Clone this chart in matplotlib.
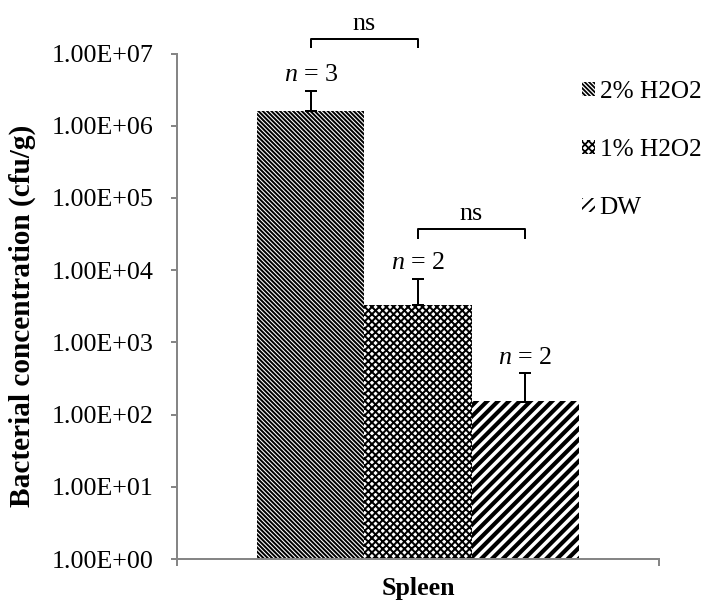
import matplotlib
matplotlib.use("Agg")
import numpy as np
import matplotlib.pyplot as plt
from matplotlib.patches import Patch
from matplotlib.ticker import FuncFormatter, FixedLocator

# values (log axis)
groups = ["2% H2O2", "1% H2O2", "DW"]
means = [1.6e6, 3.3e3, 1.51e2]
errs_up = [1.46e6, 4.25e3, 2.22e2]
n_labels = ["3", "2", "2"]
category = "Spleen"
y_ticks = [1e0, 1e1, 1e2, 1e3, 1e4, 1e5, 1e6, 1e7]

# significance brackets: (bar i, bar j, level, tip level)
brackets = [(0, 1, 10**7.20, 10**7.09), (1, 2, 10**4.57, 10**4.45)]
bracket_text = ["ns", "ns"]

hatches = ["\\" * 10, "x" * 6, "/" * 4]
hatch_lw = [1.1, 1.1, 2.3]

DPI = 130
plt.rcParams["font.family"] = ["Liberation Serif", "DejaVu Serif"]
plt.rcParams["font.size"] = 14.4
plt.rcParams["mathtext.fontset"] = "custom"
plt.rcParams["mathtext.rm"] = "Liberation Serif"
plt.rcParams["mathtext.it"] = "Liberation Serif:italic"

fig = plt.figure(figsize=(706 / DPI, 603 / DPI), dpi=DPI)
ax = fig.add_axes([177 / 706, 1 - 559 / 603, 482 / 706, (559 - 53.5) / 603])

gray = "#868686"
width = 0.222
xs = np.array([-width, 0.0, width])

for i in range(3):
    with plt.rc_context({"hatch.linewidth": hatch_lw[i]}):
        b = ax.bar(xs[i], means[i], width=width, bottom=1, color="white",
                   edgecolor="black", linewidth=0, hatch=hatches[i])
        for p in b:
            if hasattr(p, "set_hatch_linewidth"):
                p.set_hatch_linewidth(hatch_lw[i])

ax.errorbar(xs, means, yerr=[np.zeros(3), errs_up], fmt="none", ecolor="black",
            elinewidth=1.1, capsize=3.3, capthick=1.1)

for i in range(3):
    ax.annotate("$n$ = " + n_labels[i], (xs[i], means[i] + errs_up[i]),
                xytext=(0, 2.5), textcoords="offset points", ha="center", va="bottom")

for (a, b, lev, tip), t in zip(brackets, bracket_text):
    ax.plot([xs[a], xs[a], xs[b], xs[b]], [tip, lev, lev, tip], color="black",
            lw=1.1, clip_on=False)
    ax.annotate(t, ((xs[a] + xs[b]) / 2, lev), xytext=(0, 2),
                textcoords="offset points", ha="center", va="bottom",
                annotation_clip=False)

ax.set_yscale("log")
ax.set_ylim(1, 1e7)
ax.set_xlim(-0.5, 0.5)
ax.yaxis.set_major_locator(FixedLocator(y_ticks))
ax.yaxis.set_minor_locator(matplotlib.ticker.NullLocator())
ax.yaxis.set_major_formatter(FuncFormatter(lambda v, p: f"{v:.2E}"))
ax.set_xticks([-0.5, 0.5])
ax.set_xticks([0], [category], minor=True)
ax.tick_params(axis="x", which="major", direction="out", length=3.9, width=1.1,
               color=gray, labelbottom=False)
ax.tick_params(axis="x", which="minor", length=0, pad=10)
ax.tick_params(axis="y", direction="out", length=3.3, width=1.1, color=gray, pad=9.5)
for lab in ax.get_xticklabels(minor=True):
    lab.set_fontweight("bold")

for s in ["top", "right"]:
    ax.spines[s].set_visible(False)
for s in ["left", "bottom"]:
    ax.spines[s].set_color(gray)
    ax.spines[s].set_linewidth(1.1)

ax.set_ylabel("Bacterial concentration (cfu/g)", fontweight="bold", fontsize=16.2)
ax.yaxis.set_label_coords(-0.2925, 0.48)

handles = []
for i in range(3):
    with plt.rc_context({"hatch.linewidth": hatch_lw[i] * 0.8}):
        handles.append(Patch(facecolor="white", edgecolor="black", linewidth=0,
                             hatch=hatches[i], label=groups[i]))
fig.legend(handles=handles, loc="upper left", bbox_to_anchor=(582 / 706, 1 - 81 / 603),
           frameon=False, handlelength=0.5, handleheight=0.5, handletextpad=0.2,
           labelspacing=1.42, borderpad=0, borderaxespad=0, fontsize=14)

fig.savefig("out.png", dpi=DPI)
